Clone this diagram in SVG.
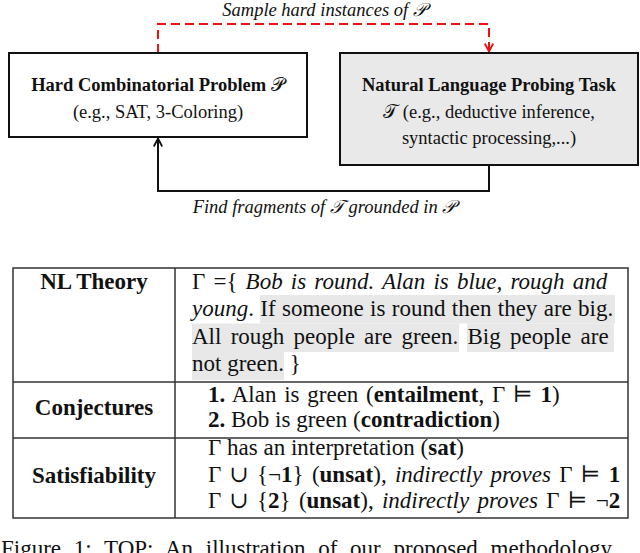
<svg xmlns="http://www.w3.org/2000/svg" width="640" height="553" viewBox="0 0 640 553">
<defs>
<style>
text{font-family:"Liberation Serif","DejaVu Serif",serif;fill:#111}
.top{font-size:18.5px}
.b{font-weight:bold}
.i{font-style:italic}
.tb{font-size:23px}
.box{stroke:#111;stroke-width:2}
.grid{stroke:#333;stroke-width:1.5;fill:none}
.hl{fill:#e8e8e8}
.red{stroke:#f01010;stroke-width:2;fill:none;stroke-dasharray:9 5}
.blk{stroke:#111;stroke-width:2;fill:none}
</style>
<marker id="ahR" viewBox="0 0 10 10" refX="9.5" refY="5" markerWidth="10" markerHeight="10" markerUnits="userSpaceOnUse" orient="auto">
<path d="M1,0.8 L9,5 L1,9.2" fill="none" stroke="#f01010" stroke-width="1.8"/>
</marker>
<marker id="ahK" viewBox="0 0 10 10" refX="9.5" refY="5" markerWidth="10" markerHeight="10" markerUnits="userSpaceOnUse" orient="auto">
<path d="M1,0.8 L9,5 L1,9.2" fill="none" stroke="#111" stroke-width="1.8"/>
</marker>
</defs>
<rect width="640" height="553" fill="#fff"/>

<g id="connectors">
<path class="red" d="M158,53 V24 H489 V52"/>
<path class="red" d="M489,44 V52" stroke-dasharray="none" marker-end="url(#ahR)"/>
<path class="blk" d="M489,165 V191 H158 V138" marker-end="url(#ahK)"/>
<text class="top i" x="324" y="15.5" text-anchor="middle">Sample hard instances of 𝒫</text>
<text class="top i" x="324" y="213" text-anchor="middle">Find fragments of 𝒯 grounded in 𝒫</text>
</g>

<g id="problem">
<rect class="box" x="9" y="53" width="298" height="84" fill="#fff"/>
<text class="top" x="158" y="91" text-anchor="middle"><tspan class="b">Hard Combinatorial Problem </tspan>𝒫</text>
<text class="top" x="158" y="117.5" text-anchor="middle">(e.g., SAT, 3-Coloring)</text>
</g>

<g id="task">
<rect class="box" x="340" y="53" width="298" height="112" fill="#e9e9e9"/>
<text class="top b" x="489" y="91" text-anchor="middle">Natural Language Probing Task</text>
<text class="top" x="489" y="117.5" text-anchor="middle">𝒯 (e.g., deductive inference,</text>
<text class="top" x="489" y="144" text-anchor="middle">syntactic processing,...)</text>
</g>

<g id="table">
<rect class="hl" x="260" y="295" width="355" height="28.5"/>
<rect class="hl" x="192" y="323.5" width="267" height="28.5"/>
<rect class="hl" x="467" y="323.5" width="147" height="28.5"/>
<rect class="hl" x="192" y="352" width="92" height="28"/>
<rect class="grid" x="13" y="268" width="615" height="250"/>
<line class="grid" x1="175" y1="268" x2="175" y2="518"/>
<line class="grid" x1="13" y1="382" x2="628" y2="382"/>
<line class="grid" x1="13" y1="438" x2="628" y2="438"/>

<text class="tb b" x="94" y="288.5" text-anchor="middle">NL Theory</text>
<text class="tb b" x="94" y="415" text-anchor="middle">Conjectures</text>
<text class="tb b" x="94" y="483" text-anchor="middle">Satisfiability</text>

<text class="tb" x="192" y="288.5" word-spacing="2.4">Γ ={ <tspan class="i">Bob is round. Alan is blue, rough and</tspan></text>
<text class="tb" x="192" y="316" word-spacing="0.6"><tspan class="i">young</tspan>. If someone is round then they are big.</text>
<text class="tb" x="192" y="343.5" word-spacing="3.5">All rough people are green. Big people are</text>
<text class="tb" x="192" y="371">not green. }</text>

<text class="tb" x="208" y="402" word-spacing="2"><tspan class="b">1.</tspan> Alan is green (<tspan class="b">entailment</tspan>, Γ ⊨ <tspan class="b">1</tspan>)</text>
<text class="tb" x="208" y="427"><tspan class="b">2.</tspan> Bob is green (<tspan class="b">contradiction</tspan>)</text>

<text class="tb" x="208" y="455">Γ has an interpretation (<tspan class="b">sat</tspan>)</text>
<text class="tb" x="208" y="481.5" word-spacing="2.5">Γ ∪ {¬<tspan class="b">1</tspan>} (<tspan class="b">unsat</tspan>), <tspan class="i">indirectly proves</tspan> Γ ⊨ <tspan class="b">1</tspan></text>
<text class="tb" x="208" y="508" word-spacing="2.5">Γ ∪ {<tspan class="b">2</tspan>} (<tspan class="b">unsat</tspan>), <tspan class="i">indirectly proves</tspan> Γ ⊨ ¬<tspan class="b">2</tspan></text>
</g>

<text class="tb" x="1" y="556" word-spacing="7">Figure 1: TOP: An illustration of our proposed methodology</text>
</svg>
